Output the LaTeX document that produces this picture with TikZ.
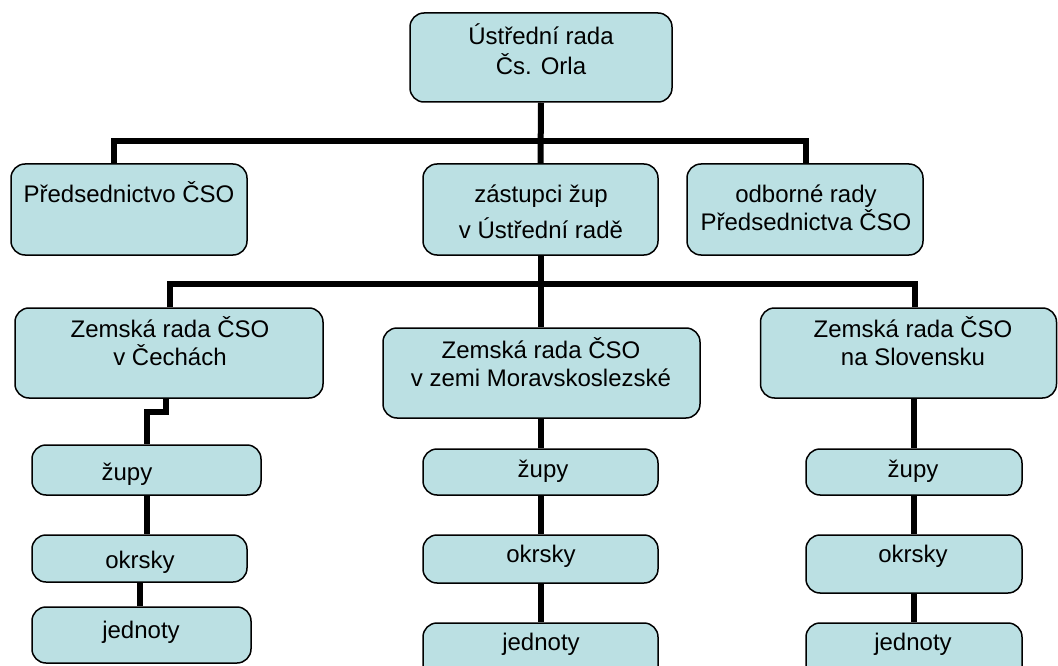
\documentclass[tikz,border=0pt]{standalone}
\usepackage{fontspec}
\setmainfont{Liberation Sans}
\definecolor{boxfill}{RGB}{187,224,227}
\pgfdeclarelayer{background}
\pgfsetlayers{background,main}
\begin{document}
\begin{tikzpicture}[x=1pt,y=-1pt,
  orgbox/.style={draw=black, line width=1.5pt, fill=boxfill, rounded corners=14pt, inner sep=0pt},
  conn/.style={line width=6pt, draw=black},
  txt/.style={font=\fontsize{24}{28}\selectfont, anchor=base, inner sep=0pt, text=black}]
\useasboundingbox (0,0) rectangle (1058,666);
% boxes
\node[orgbox, minimum width=262pt, minimum height=89pt] (top) at (541,57.5) {};
\node[orgbox, minimum width=236pt, minimum height=91pt] (pred) at (129,209.5) {};
\node[orgbox, minimum width=235pt, minimum height=91pt] (zast) at (540.5,209.5) {};
\node[orgbox, minimum width=236pt, minimum height=91pt] (odb) at (805,209.5) {};
\node[orgbox, minimum width=308pt, minimum height=90pt] (cech) at (169,353) {};
\node[orgbox, minimum width=317pt, minimum height=90pt] (mor) at (541.5,373) {};
\node[orgbox, minimum width=296pt, minimum height=90pt] (slov) at (908.5,353) {};
\node[orgbox, minimum width=229pt, minimum height=50pt] (zL) at (146.5,470) {};
\node[orgbox, minimum width=215pt, minimum height=47pt] (oL) at (139.5,558.5) {};
\node[orgbox, minimum width=219pt, minimum height=56pt] (jL) at (141.5,635) {};
\node[orgbox, minimum width=235pt, minimum height=46pt] (zM) at (540.5,472) {};
\node[orgbox, minimum width=235pt, minimum height=48pt] (oM) at (540.5,559) {};
\node[orgbox, minimum width=235pt, minimum height=57pt] (jM) at (540.5,651.5) {};
\node[orgbox, minimum width=216pt, minimum height=46pt] (zS) at (914,472) {};
\node[orgbox, minimum width=216pt, minimum height=58pt] (oS) at (914,564) {};
\node[orgbox, minimum width=216pt, minimum height=57pt] (jS) at (914,651.5) {};
\coordinate (bus1) at (0,141);
\coordinate (bus2) at (0,284);
% connectors behind the boxes
\begin{pgfonlayer}{background}
\fill[white] (0,0) rectangle (1058,666);
\draw[conn] (top.south) -- (zast.north);
\draw[conn] ([xshift=-15pt]pred.north) -- ([xshift=-15pt]pred.north |- bus1) -- ([xshift=1pt]odb.north |- bus1) -- ([xshift=1pt]odb.north);
\draw[conn] (zast.south) -- (zast.south |- mor.north);
\draw[conn] ([xshift=1pt]cech.north) -- ([xshift=1pt]cech.north |- bus2) -- ([xshift=6pt]slov.north |- bus2) -- ([xshift=6pt]slov.north);
\draw[conn] ([xshift=-3pt]cech.south) -- ++(0,13) -| (zL.north);
\draw[conn] (zL.south) -- (zL.south |- oL.north);
\draw[conn] (oL.south) -- (oL.south |- jL.north);
\draw[conn] (zM.north |- mor.south) -- (zM.north);
\draw[conn] (zM.south) -- (oM.north);
\draw[conn] (oM.south) -- (jM.north);
\draw[conn] (zS.north |- slov.south) -- (zS.north);
\draw[conn] (zS.south) -- (oS.north);
\draw[conn] (oS.south) -- (jS.north);
\end{pgfonlayer}
% texts
\node[txt] (t1a) at (541,45) {Ústřední rada};
\node[txt] (t1b) at (541,75) {Čs. Orla};
\node[txt] (t2) at (129,202) {Předsednictvo ČSO};
\node[txt] (t3a) at (541,202) {zástupci žup};
\node[txt] (t3b) at (541,238) {v Ústřední radě};
\node[txt] (t4a) at (806,202) {odborné rady};
\node[txt] (t4b) at (806,230) {Předsednictva ČSO};
\node[txt] (t5a) at (170,337) {Zemská rada ČSO};
\node[txt] (t5b) at (170,365) {v Čechách};
\node[txt] (t6a) at (541,358) {Zemská rada ČSO};
\node[txt] (t6b) at (541,386) {v zemi Moravskoslezské};
\node[txt] (t7a) at (913,337) {Zemská rada ČSO};
\node[txt] (t7b) at (913,365) {na Slovensku};
\node[txt] (t8) at (127,480) {župy};
\node[txt] (t9) at (140,568) {okrsky};
\node[txt] (t10) at (141,638) {jednoty};
\node[txt] (t11) at (543,477) {župy};
\node[txt] (t12) at (541,562) {okrsky};
\node[txt] (t13) at (541,650) {jednoty};
\node[txt] (t14) at (913,477) {župy};
\node[txt] (t15) at (913,562) {okrsky};
\node[txt] (t16) at (913,650) {jednoty};
\end{tikzpicture}
\end{document}
